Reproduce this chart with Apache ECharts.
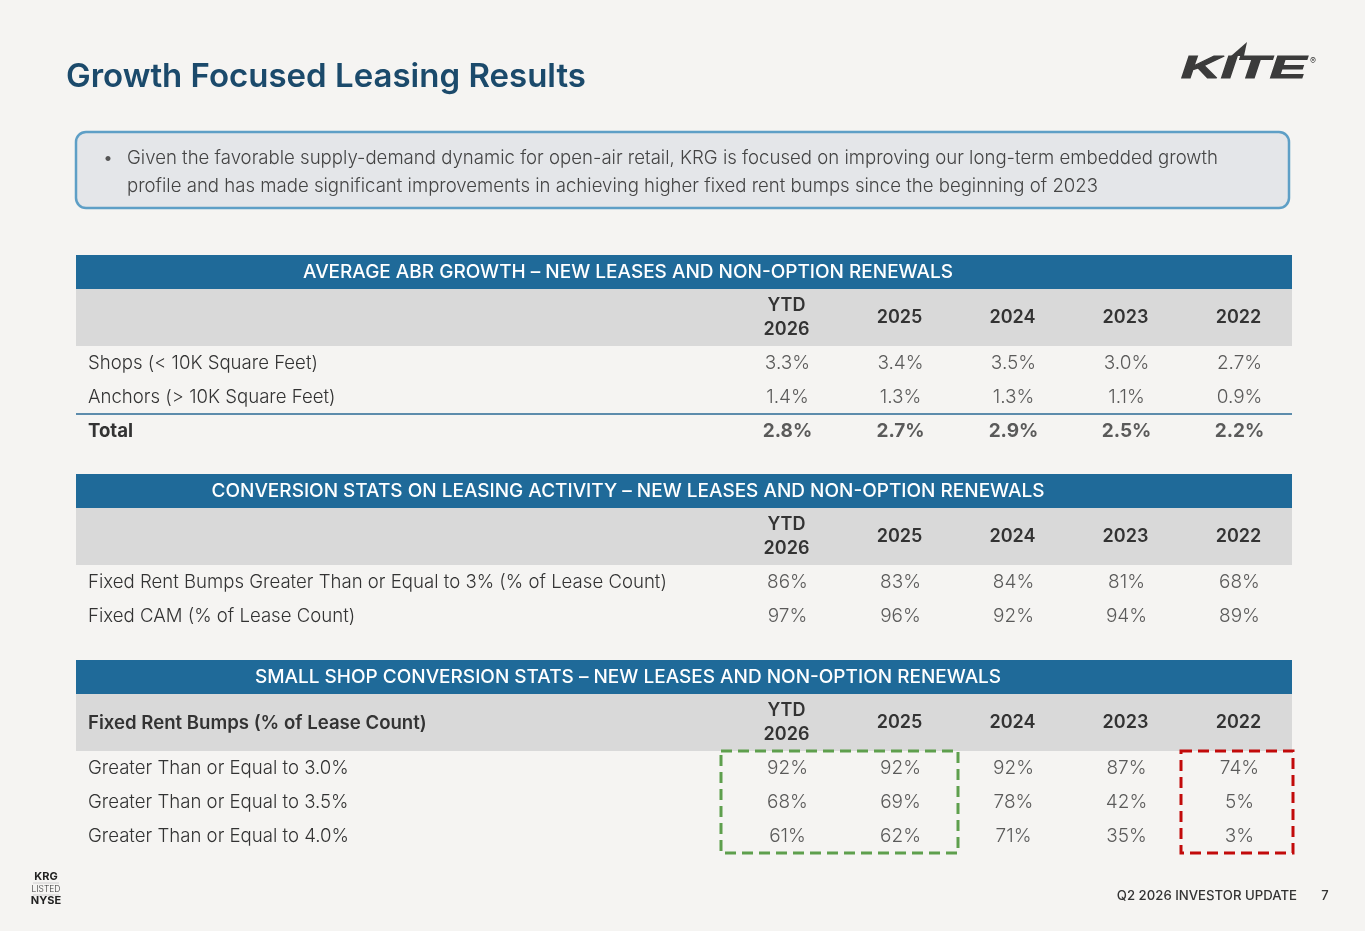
<!DOCTYPE html>
<html><head><meta charset="utf-8">
<script src="https://cdn.jsdelivr.net/npm/echarts@6/dist/echarts.min.js"></script>
<style>html,body{margin:0;padding:0;background:#f5f4f2;}#main{width:1365px;height:931px;}</style>
</head><body><div id="main"></div>
<script>
// ---------- data ----------
const pageTitle = 'Growth Focused Leasing Results';
const calloutLines = [
  'Given the favorable supply-demand dynamic for open-air retail, KRG is focused on improving our long-term embedded growth',
  'profile and has made significant improvements in achieving higher fixed rent bumps since the beginning of 2023'
];
const years = ['YTD\n2026', '2025', '2024', '2023', '2022'];

const t1Title = 'AVERAGE ABR GROWTH – NEW LEASES AND NON-OPTION RENEWALS';
const t1Rows = ['Shops (< 10K Square Feet)', 'Anchors (> 10K Square Feet)', 'Total'];
const t1Shops = [3.3, 3.4, 3.5, 3.0, 2.7];
const t1Anchors = [1.4, 1.3, 1.3, 1.1, 0.9];
const t1Total = [2.8, 2.7, 2.9, 2.5, 2.2];

const t2Title = 'CONVERSION STATS ON LEASING ACTIVITY – NEW LEASES AND NON-OPTION RENEWALS';
const t2Rows = ['Fixed Rent Bumps Greater Than or Equal to 3% (% of Lease Count)', 'Fixed CAM (% of Lease Count)'];
const t2Bumps = [86, 83, 84, 81, 68];
const t2Cam = [97, 96, 92, 94, 89];

const t3Title = 'SMALL SHOP CONVERSION STATS – NEW LEASES AND NON-OPTION RENEWALS';
const t3Header = 'Fixed Rent Bumps (% of Lease Count)';
const t3Rows = ['Greater Than or Equal to 3.0%', 'Greater Than or Equal to 3.5%', 'Greater Than or Equal to 4.0%'];
const t3Ge30 = [92, 92, 92, 87, 74];
const t3Ge35 = [68, 69, 78, 42, 5];
const t3Ge40 = [61, 62, 71, 35, 3];

// highlighted column ranges in table 3: [firstCol, lastCol, firstRow, lastRow]
const greenBox = [0, 1, 0, 2];
const redBox = [4, 4, 0, 2];

const footerRight = 'Q2 2026 INVESTOR UPDATE';
const pageNumber = '7';

// ---------- layout / style ----------
const FONT = 'Inter, "Noto Sans", sans-serif';
const TXT = '#333333';
const ROW_H = 34;
const GRID_LEFT = 730, GRID_W = 565;
const TABLE_X0 = 76, TABLE_X1 = 1292;
const gridTops = [346, 565, 751];
const LABEL_SIZE = 18.6, VALUE_SIZE = 19, HEAD_SIZE = 18;
const BOX_STYLES = [
  { stroke: '#5e9f4d', padL: 9, padR: 2 },
  { stroke: '#c20a0a', padL: 1, padR: -2 }
];

function cells(rowsArr) {
  const out = [];
  rowsArr.forEach((vals, r) => vals.forEach((v, c) => out.push([c, r, v])));
  return out;
}

const tables = [
  { title: t1Title, rows: t1Rows, data: [t1Shops, t1Anchors], boldRows: [[t1Total, 2]], fmt: v => v.toFixed(1) + '%' },
  { title: t2Title, rows: t2Rows, data: [t2Bumps, t2Cam], boldRows: [], fmt: v => v + '%' },
  { title: t3Title, rows: t3Rows, data: [t3Ge30, t3Ge35, t3Ge40], boldRows: [], fmt: v => v + '%' }
];

const grid = [], xAxis = [], yAxis = [], series = [], graphic = [];

tables.forEach((t, i) => {
  const top = gridTops[i];
  grid.push({ left: GRID_LEFT, top: top, width: GRID_W, height: t.rows.length * ROW_H });
  xAxis.push({
    type: 'category', gridIndex: i, data: years, position: 'top',
    axisLine: { show: false }, axisTick: { show: false }, splitLine: { show: false },
    axisLabel: { margin: 28, verticalAlign: 'middle', lineHeight: 24, fontSize: HEAD_SIZE, fontWeight: 600, color: TXT, fontFamily: FONT, interval: 0 }
  });
  yAxis.push({
    type: 'category', gridIndex: i, inverse: true, data: t.rows,
    axisLine: { show: false }, axisTick: { show: false }, splitLine: { show: false },
    axisLabel: {
      margin: GRID_LEFT - 88, align: 'left', fontSize: LABEL_SIZE, fontWeight: 300, color: TXT, fontFamily: FONT, interval: 0,
      formatter: v => v === 'Total' ? '{b|' + v + '}' : v,
      rich: { b: { fontSize: LABEL_SIZE, fontWeight: 700, color: TXT, fontFamily: FONT } }
    }
  });
  series.push({
    type: 'scatter', xAxisIndex: i, yAxisIndex: i, silent: true, symbolSize: 1,
    itemStyle: { color: 'rgba(0,0,0,0)' },
    data: cells(t.data),
    label: { show: true, position: 'inside', offset: [1, 0], formatter: p => t.fmt(p.value[2]), fontSize: VALUE_SIZE, fontWeight: 300, color: TXT, fontFamily: FONT }
  });
  t.boldRows.forEach(([vals, r]) => {
    series.push({
      type: 'scatter', xAxisIndex: i, yAxisIndex: i, silent: true, symbolSize: 1,
      itemStyle: { color: 'rgba(0,0,0,0)' },
      data: vals.map((v, c) => [c, r, v]),
      label: { show: true, position: 'inside', offset: [1, 0], formatter: p => t.fmt(p.value[2]), fontSize: VALUE_SIZE, fontWeight: 700, color: TXT, fontFamily: FONT }
    });
  });
  // bands
  const blueTop = top - 91;
  graphic.push({ type: 'rect', silent: true, z: -10, shape: { x: TABLE_X0, y: blueTop, width: TABLE_X1 - TABLE_X0, height: 34 }, style: { fill: '#1f6a99' } });
  graphic.push({ type: 'rect', silent: true, z: -10, shape: { x: TABLE_X0, y: blueTop + 34, width: TABLE_X1 - TABLE_X0, height: 57 }, style: { fill: '#d9d9d9' } });
  graphic.push({ type: 'text', silent: true, style: { x: 628, y: blueTop + 17, text: t.title, align: 'center', verticalAlign: 'middle', fontSize: 19, fontWeight: 500, fill: '#ffffff', fontFamily: FONT } });
});

// total separator line in table 1
graphic.push({ type: 'line', silent: true, shape: { x1: TABLE_X0, y1: gridTops[0] + 2 * ROW_H, x2: TABLE_X1, y2: gridTops[0] + 2 * ROW_H }, style: { stroke: '#2a6a94', lineWidth: 1.5 } });
// table 3 header label
graphic.push({ type: 'text', silent: true, style: { x: 88, y: gridTops[2] - 28, text: t3Header, verticalAlign: 'middle', fontSize: LABEL_SIZE, fontWeight: 600, fill: TXT, fontFamily: FONT } });

// highlight boxes
series.push({
  type: 'custom', xAxisIndex: 2, yAxisIndex: 2, silent: true, z: 5,
  encode: { x: [0, 1], y: [2, 3] },
  data: [greenBox, redBox],
  renderItem: function (params, api) {
    const st = BOX_STYLES[params.dataIndex];
    const a = api.coord([api.value(0), api.value(2)]);
    const b = api.coord([api.value(1), api.value(3)]);
    const s = api.size([1, 1]);
    const x0 = a[0] - s[0] / 2 - st.padL, x1 = b[0] + s[0] / 2 + st.padR;
    const y0 = a[1] - s[1] / 2, y1 = b[1] + s[1] / 2;
    return {
      type: 'rect', shape: { x: x0, y: y0, width: x1 - x0, height: y1 - y0 },
      style: { fill: 'none', stroke: st.stroke, lineWidth: 3, lineDash: [11, 6] }
    };
  }
});

// title
graphic.push({ type: 'text', silent: true, style: { x: 66, y: 77, text: pageTitle, verticalAlign: 'middle', fontSize: 33, fontWeight: 600, fill: '#1b4a6b', fontFamily: FONT } });
// logo
graphic.push({ type: 'text', silent: true, x: 1181, y: 69, scaleX: 1.72, style: { x: 0, y: 0, text: 'KITE', verticalAlign: 'middle', fontSize: 32, fontWeight: 'bold', fontStyle: 'italic', fill: '#3b3b3b', stroke: '#3b3b3b', lineWidth: 1, fontFamily: '"Liberation Sans", Arial, sans-serif' } });
graphic.push({ type: 'polygon', silent: true, shape: { points: [[1231, 56], [1247, 42], [1244, 56]] }, style: { fill: '#3b3b3b' } });
graphic.push({ type: 'text', silent: true, style: { x: 1313, y: 61, text: '®', align: 'center', verticalAlign: 'middle', fontSize: 9, fill: '#3b3b3b', fontFamily: FONT } });

// callout
graphic.push({ type: 'rect', silent: true, z: -10, shape: { x: 76, y: 132, width: 1213, height: 76, r: 10 }, style: { fill: '#e4e6e9', stroke: '#5e9fc6', lineWidth: 2.5 } });
graphic.push({ type: 'text', silent: true, style: { x: 108, y: 158, text: '•', align: 'center', verticalAlign: 'middle', fontSize: 16, fill: '#555', fontFamily: FONT } });
calloutLines.forEach((l, k) => {
  graphic.push({ type: 'text', silent: true, style: { x: 127, y: 158 + k * 28, text: l, verticalAlign: 'middle', fontSize: 18.6, fontWeight: 300, fill: '#444', fontFamily: FONT } });
});

// footer
graphic.push({ type: 'text', silent: true, style: { x: 46, y: 877, text: 'KRG', align: 'center', verticalAlign: 'middle', fontSize: 11, fontWeight: 700, fill: '#222', fontFamily: FONT } });
graphic.push({ type: 'line', silent: true, shape: { x1: 33, y1: 883, x2: 59, y2: 883 }, style: { stroke: '#bbb', lineWidth: 0.6 } });
graphic.push({ type: 'text', silent: true, style: { x: 46, y: 889, text: 'LISTED', align: 'center', verticalAlign: 'middle', fontSize: 8.5, fontWeight: 300, fill: '#333', fontFamily: FONT } });
graphic.push({ type: 'line', silent: true, shape: { x1: 33, y1: 895, x2: 59, y2: 895 }, style: { stroke: '#bbb', lineWidth: 0.6 } });
graphic.push({ type: 'text', silent: true, style: { x: 46, y: 901, text: 'NYSE', align: 'center', verticalAlign: 'middle', fontSize: 11, fontWeight: 700, fill: '#222', fontFamily: FONT } });
graphic.push({ type: 'text', silent: true, style: { x: 1297, y: 896, text: footerRight, align: 'right', verticalAlign: 'middle', fontSize: 13.2, fontWeight: 500, fill: '#333', fontFamily: FONT } });
graphic.push({ type: 'text', silent: true, style: { x: 1325, y: 896, text: pageNumber, align: 'center', verticalAlign: 'middle', fontSize: 13, fontWeight: 500, fill: '#333', fontFamily: FONT } });

const chart = echarts.init(document.getElementById('main'), null, { renderer: 'canvas' });
chart.setOption({
  backgroundColor: '#f5f4f2',
  animation: false,
  grid, xAxis, yAxis, series, graphic
});
</script>
</body></html>
